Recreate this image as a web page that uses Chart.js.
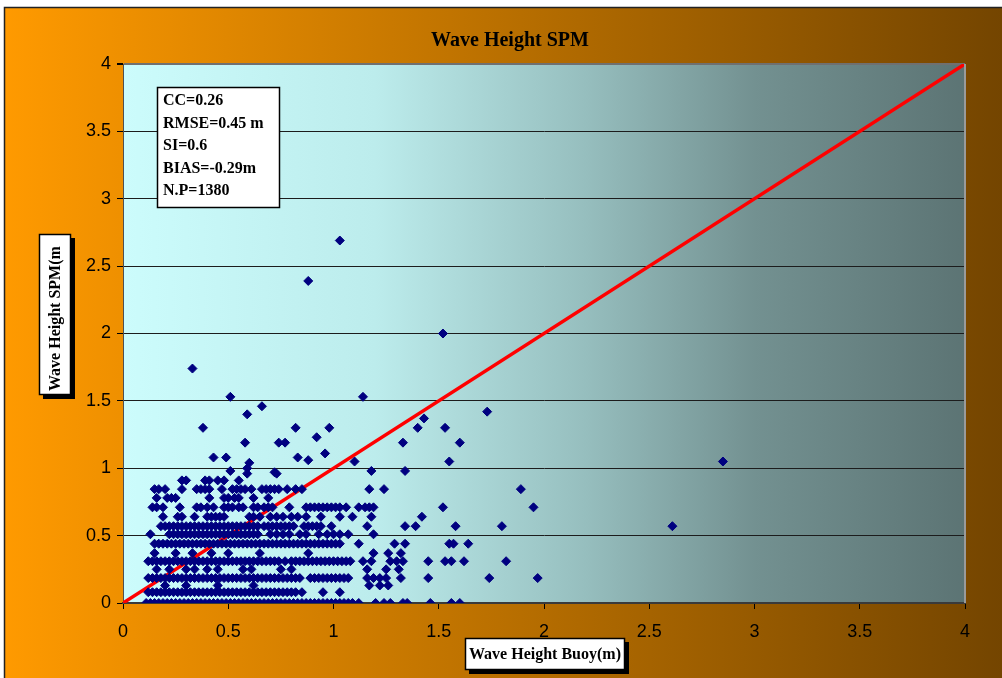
<!DOCTYPE html>
<html>
<head>
<meta charset="utf-8">
<title>Wave Height SPM</title>
<script src="https://cdn.jsdelivr.net/npm/chart.js@4"></script>
<style>
  html, body { margin: 0; padding: 0; background: #fff; }
  #wrap { width: 1002px; height: 678px; }
</style>
</head>
<body>
<div id="wrap"><canvas id="chart" width="1002" height="678"></canvas></div>
<script>
// Значения SPM, по которым модель выдаёт "строки" точек
const rowLevels = [0, 0.08, 0.13, 0.185, 0.25, 0.31, 0.37, 0.44, 0.51, 0.57, 0.64, 0.71, 0.78, 0.845, 0.91];

// Buoy (m) для каждой строки
const row000 = [0.11,0.13,0.15,0.17,0.19,0.21,0.23,0.25,0.27,0.29,0.31,0.33,0.35,0.37,0.39,0.41,0.43,0.45,0.47,0.49,0.51,0.53,0.55,0.57,0.59,0.61,0.63,0.65,0.67,0.69,0.71,0.73,0.75,0.77,0.79,0.81,0.83,0.85,0.87,0.89,0.91,0.93,0.95,0.97,0.99,1.01,1.03,1.05,1.07,1.09,1.12,1.20,1.24,1.27,1.33,1.35,1.46,1.56,1.60];
const row008 = [0.12,0.14,0.16,0.18,0.20,0.22,0.24,0.26,0.28,0.30,0.32,0.34,0.36,0.38,0.40,0.42,0.44,0.46,0.48,0.50,0.52,0.54,0.56,0.58,0.60,0.62,0.64,0.66,0.68,0.70,0.72,0.74,0.76,0.78,0.80,0.82,0.85,0.95,1.03];
const row013 = [0.20,0.30,0.45,0.62,1.17,1.22,1.26];
const row0185 = [0.12,0.14,0.16,0.18,0.20,0.22,0.24,0.26,0.28,0.30,0.32,0.34,0.36,0.38,0.40,0.42,0.44,0.46,0.48,0.50,0.52,0.54,0.56,0.58,0.60,0.62,0.64,0.66,0.68,0.70,0.72,0.74,0.76,0.78,0.80,0.82,0.84,0.89,0.91,0.93,0.95,0.97,0.99,1.01,1.03,1.05,1.07,1.16,1.19,1.22,1.25,1.32,1.45,1.74,1.97];
const row025 = [0.16,0.22,0.30,0.34,0.40,0.45,0.57,0.61,0.75,0.80,1.16,1.25,1.31];
const row031 = [0.12,0.14,0.16,0.18,0.20,0.22,0.24,0.26,0.28,0.30,0.32,0.34,0.36,0.38,0.40,0.42,0.44,0.46,0.48,0.50,0.52,0.54,0.56,0.58,0.60,0.62,0.64,0.66,0.68,0.70,0.72,0.74,0.77,0.80,0.82,0.84,0.86,0.88,0.90,0.92,0.94,0.96,0.98,1.00,1.02,1.04,1.06,1.08,1.14,1.18,1.27,1.30,1.33,1.45,1.53,1.56,1.62,1.82];
const row037 = [0.15,0.25,0.33,0.42,0.50,0.65,0.88,1.19,1.26,1.32];
const row044 = [0.15,0.17,0.19,0.21,0.23,0.25,0.27,0.29,0.31,0.33,0.35,0.37,0.39,0.41,0.43,0.45,0.47,0.49,0.51,0.53,0.55,0.57,0.59,0.61,0.63,0.65,0.67,0.69,0.71,0.73,0.75,0.77,0.79,0.81,0.83,0.85,0.87,0.89,0.91,0.93,0.95,0.97,0.99,1.01,1.03,1.12,1.29,1.34,1.55,1.57,1.64];
const row051 = [0.13,0.22,0.24,0.26,0.28,0.30,0.32,0.34,0.36,0.38,0.40,0.42,0.44,0.46,0.48,0.50,0.52,0.54,0.56,0.58,0.60,0.62,0.64,0.70,0.73,0.76,0.79,0.84,0.87,0.93,0.97,1.00,1.03,1.07,1.19];
const row057 = [0.18,0.20,0.22,0.24,0.26,0.28,0.30,0.32,0.34,0.36,0.38,0.40,0.42,0.44,0.46,0.48,0.50,0.52,0.54,0.56,0.58,0.60,0.62,0.64,0.67,0.69,0.71,0.73,0.75,0.77,0.79,0.81,0.86,0.88,0.90,0.92,0.94,0.99,1.16,1.34,1.39,1.58,1.80,2.61];
const row064 = [0.19,0.26,0.28,0.34,0.40,0.42,0.44,0.46,0.48,0.60,0.62,0.65,0.70,0.73,0.76,0.80,0.83,0.87,0.94,1.03,1.09,1.18,1.42];
const row071 = [0.14,0.16,0.19,0.27,0.35,0.37,0.40,0.43,0.48,0.50,0.52,0.55,0.57,0.62,0.64,0.67,0.69,0.71,0.79,0.87,0.89,0.91,0.93,0.95,0.97,0.99,1.01,1.03,1.06,1.12,1.15,1.17,1.19,1.52,1.95];
const row078 = [0.16,0.21,0.23,0.25,0.41,0.48,0.50,0.53,0.55,0.62,0.69];
const row0845 = [0.15,0.17,0.20,0.28,0.35,0.37,0.39,0.41,0.47,0.52,0.54,0.56,0.58,0.61,0.66,0.68,0.70,0.72,0.74,0.78,0.82,0.85,1.17,1.24,1.89];
const row091 = [0.28,0.30,0.39,0.41,0.45,0.48,0.55];
const rowBuoy = [row000, row008, row013, row0185, row025, row031, row037, row044, row051, row057, row064, row071, row078, row0845, row091];

// Отдельные точки выше основного облака
const outlierBuoy = [1.03,0.88,1.52,0.33,0.51,1.14,0.66,0.59,1.73,1.43,0.38,0.82,0.98,1.40,1.53,0.58,0.74,0.77,1.33,1.60,0.92,0.96,0.43,0.49,0.83,0.88,0.60,0.59,1.10,1.55,2.85,0.51,0.59,0.72,0.73,1.18,1.34];
const outlierSpm  = [2.69,2.39,2.00,1.74,1.53,1.53,1.46,1.40,1.42,1.37,1.30,1.30,1.30,1.30,1.30,1.19,1.19,1.19,1.19,1.19,1.23,1.11,1.08,1.08,1.08,1.06,1.04,1.00,1.05,1.05,1.05,0.98,0.96,0.97,0.96,0.98,0.98];

const statsLines = ['CC=0.26', 'RMSE=0.45 m', 'SI=0.6', 'BIAS=-0.29m', 'N.P=1380'];

const points = [];
rowLevels.forEach((y, i) => {
  rowBuoy[i].forEach((x) => points.push({ x: x, y: y }));
});
outlierBuoy.forEach((x, i) => points.push({ x: x, y: outlierSpm[i] }));

const serif = '"Liberation Serif", "Times New Roman", serif';
const sans = '"Liberation Sans", Arial, sans-serif';

// подписи делений как в Excel: 0, 0.5, 1, 1.5 ...
const tickLabel = (value) => String(Math.round(value * 10) / 10);

// Фон: оранжевая подложка и градиент области построения
const backgroundPlugin = {
  id: 'background',
  beforeDraw(chart) {
    const { ctx, chartArea: a, width, height } = chart;
    ctx.save();
    ctx.fillStyle = '#fff';
    ctx.fillRect(0, 0, width, height);

    const og = ctx.createLinearGradient(4, 0, width, 0);
    og.addColorStop(0, '#FF9A00');
    og.addColorStop(1, '#744500');
    ctx.fillStyle = og;
    ctx.fillRect(4, 7, width - 4, height - 7);
    ctx.strokeStyle = '#222';
    ctx.lineWidth = 1.5;
    ctx.beginPath();
    ctx.moveTo(4.5, height);
    ctx.lineTo(4.5, 7.5);
    ctx.lineTo(width, 7.5);
    ctx.stroke();

    const pg = ctx.createLinearGradient(a.left, 0, a.right, 0);
    pg.addColorStop(0, 'rgb(204,252,252)');
    pg.addColorStop(0.3, 'rgb(188,236,236)');
    pg.addColorStop(0.55, 'rgb(150,190,190)');
    pg.addColorStop(0.75, 'rgb(115,145,145)');
    pg.addColorStop(1, 'rgb(92,116,116)');
    ctx.fillStyle = pg;
    ctx.fillRect(a.left, a.top, a.right - a.left, a.bottom - a.top);
    ctx.restore();
  },
};

function drawBox(ctx, x, y, w, h, shadow) {
  if (shadow) {
    ctx.fillStyle = '#000';
    ctx.fillRect(x + 4, y + 4, w, h);
  }
  ctx.fillStyle = '#fff';
  ctx.fillRect(x, y, w, h);
  ctx.strokeStyle = '#000';
  ctx.lineWidth = 1.5;
  ctx.strokeRect(x + 0.5, y + 0.5, w - 1, h - 1);
}

// Заголовок, рамки, блок статистики и подписи осей
const overlayPlugin = {
  id: 'overlay',
  afterDraw(chart) {
    const { ctx, chartArea: a } = chart;
    ctx.save();

    // правая граница области построения
    ctx.strokeStyle = '#9a9a9a';
    ctx.lineWidth = 2;
    ctx.beginPath();
    ctx.moveTo(a.right, a.top);
    ctx.lineTo(a.right, a.bottom);
    ctx.stroke();

    ctx.fillStyle = '#000';
    ctx.font = 'bold 20px ' + serif;
    ctx.textAlign = 'center';
    ctx.textBaseline = 'middle';
    ctx.fillText('Wave Height SPM', 510, 41);

    // блок статистики
    drawBox(ctx, 157, 87, 123, 121, false);
    ctx.fillStyle = '#000';
    ctx.font = 'bold 16px ' + serif;
    ctx.textAlign = 'left';
    statsLines.forEach((line, i) => {
      ctx.fillText(line, 163, 101 + i * 22.5);
    });

    // подпись оси X
    drawBox(ctx, 465, 638, 160, 32, true);
    ctx.fillStyle = '#000';
    ctx.textAlign = 'center';
    ctx.fillText('Wave Height Buoy(m)', 545, 655);

    // подпись оси Y (в оригинале обрезана сверху)
    drawBox(ctx, 39, 234, 32, 161, true);
    ctx.save();
    ctx.beginPath();
    ctx.rect(40, 235, 30, 159);
    ctx.clip();
    ctx.translate(56, 391);
    ctx.rotate(-Math.PI / 2);
    ctx.fillStyle = '#000';
    ctx.textAlign = 'left';
    ctx.fillText('Wave Height SPM(m', 0, 0);
    ctx.restore();

    ctx.restore();
  },
};

const ctx = document.getElementById('chart').getContext('2d');
const chartInstance = new Chart(ctx, {
  type: 'scatter',
  data: {
    datasets: [
      {
        label: 'SPM vs Buoy',
        data: points,
        pointStyle: 'rectRot',
        pointRadius: 4.5,
        backgroundColor: '#000080',
        borderColor: '#000080',
        borderWidth: 1,
      },
      {
        type: 'line',
        label: 'y = x',
        data: [{ x: 0, y: 0 }, { x: 4, y: 4 }],
        borderColor: '#FF0000',
        borderWidth: 3.5,
        pointRadius: 0,
        fill: false,
      },
    ],
  },
  options: {
    animation: false,
    responsive: false,
    events: [],
    layout: {
      padding: { top: 64, right: 37, bottom: 0, left: 0 },
    },
    plugins: {
      legend: { display: false },
      tooltip: { enabled: false },
      title: { display: false },
    },
    scales: {
      x: {
        type: 'linear',
        min: 0,
        max: 4,
        ticks: {
          stepSize: 0.5,
          color: '#000',
          padding: 12,
          maxRotation: 0,
          font: { family: sans, size: 18 },
          callback: tickLabel,
        },
        grid: {
          drawOnChartArea: false,
          tickLength: 6,
          tickColor: '#000',
        },
        border: { color: '#3a3a3a', width: 2 },
        afterFit: (scale) => { scale.height = 75; },
      },
      y: {
        type: 'linear',
        min: 0,
        max: 4,
        ticks: {
          stepSize: 0.5,
          color: '#000',
          padding: 6,
          font: { family: sans, size: 18 },
          callback: tickLabel,
        },
        grid: {
          color: (c) => (c.tick && c.tick.value === 4 ? '#707070' : '#1c1c1c'),
          lineWidth: (c) => (c.tick && c.tick.value === 4 ? 2 : 1),
          tickLength: 6,
          tickColor: '#000',
        },
        border: { color: '#505050', width: 1 },
        afterFit: (scale) => { scale.width = 123; },
      },
    },
  },
  plugins: [backgroundPlugin, overlayPlugin],
});
</script>
</body>
</html>
